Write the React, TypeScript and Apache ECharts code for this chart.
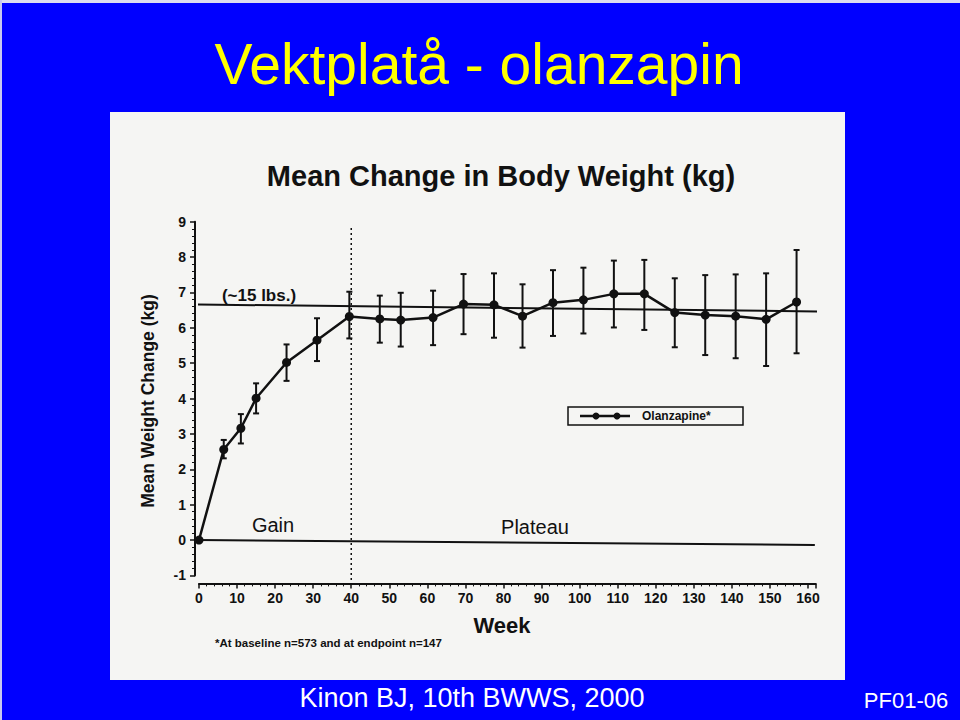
import React, { useEffect, useRef } from "react";
import * as echarts from "echarts";

// Weeks at which the mean was measured
const weeks = [0, 6.5, 11, 15, 23, 31, 39.5, 47.5, 53, 61.5, 69.5, 77.5, 85, 93, 101, 109, 117, 125, 133, 141, 149, 157];
// Mean weight change (kg)
const meanChange = [0, 2.56, 3.16, 4.01, 5.02, 5.65, 6.32, 6.25, 6.22, 6.29, 6.67, 6.65, 6.33, 6.71, 6.79, 6.96, 6.96, 6.43, 6.36, 6.33, 6.24, 6.73];
// Error bar ends
const upperBar = [0, 2.83, 3.56, 4.43, 5.53, 6.27, 7.02, 6.91, 6.99, 7.05, 7.52, 7.54, 7.23, 7.63, 7.7, 7.9, 7.92, 7.4, 7.49, 7.51, 7.54, 8.2];
const lowerBar = [0, 2.31, 2.73, 3.58, 4.5, 5.06, 5.7, 5.58, 5.47, 5.51, 5.82, 5.72, 5.44, 5.77, 5.84, 6.01, 5.94, 5.45, 5.23, 5.14, 4.92, 5.28];
// Reference lines (scanned slightly tilted)
const lbsLine = [[-1, 6.66], [165.8, 6.46]];
const zeroLine = [[-1, 0], [161.8, -0.14]];
const phaseLine = [[40, 8.82], [40, -1.2]];

const FONT = "'Liberation Sans', Arial, Helvetica, sans-serif";
const INK = "#111111";

export default function App() {
  const ref = useRef<HTMLDivElement>(null);

  useEffect(() => {
    if (!ref.current) return;
    const chart = echarts.init(ref.current, undefined, { renderer: "svg" });

    const meanData = weeks.map((w, i) => [w, meanChange[i]]);
    const barData = weeks.map((w, i) => [w, lowerBar[i], upperBar[i]]);

    const option: any = {
      animation: false,
      backgroundColor: "#0000ff",
      textStyle: { fontFamily: FONT },
      graphic: [
        { type: "rect", z: -1, shape: { x: 0, y: 0, width: 960, height: 3 }, style: { fill: "#dcdcf0" } },
        { type: "rect", z: -1, shape: { x: 0, y: 0, width: 2, height: 720 }, style: { fill: "#c8c8f0" } },
        { type: "rect", z: -1, shape: { x: 110, y: 112, width: 735, height: 568 }, style: { fill: "#f5f5f3" } },
        {
          type: "text", x: 479, y: 64,
          style: { text: "Vektplatå - olanzapin", fill: "#ffff00", fontFamily: FONT, fontSize: 57, textAlign: "center", textVerticalAlign: "middle" },
        },
        {
          type: "text", x: 472, y: 698,
          style: { text: "Kinon BJ, 10th BWWS, 2000", fill: "#ffffff", fontFamily: FONT, fontSize: 27, textAlign: "center", textVerticalAlign: "middle" },
        },
        {
          type: "text", x: 906, y: 700,
          style: { text: "PF01-06", fill: "#ffffff", fontFamily: FONT, fontSize: 22, textAlign: "center", textVerticalAlign: "middle" },
        },
        {
          type: "text", x: 501, y: 176,
          style: { text: "Mean Change in Body Weight (kg)", fill: INK, fontFamily: FONT, fontSize: 29, fontWeight: "bold", textAlign: "center", textVerticalAlign: "middle" },
        },
        {
          type: "text", x: 148, y: 401, rotation: Math.PI / 2,
          style: { text: "Mean Weight Change (kg)", fill: INK, fontFamily: FONT, fontSize: 17.5, fontWeight: "bold", textAlign: "center", textVerticalAlign: "middle" },
        },
        {
          type: "text", x: 502, y: 625,
          style: { text: "Week", fill: INK, fontFamily: FONT, fontSize: 22, fontWeight: "bold", textAlign: "center", textVerticalAlign: "middle" },
        },
        {
          type: "text", x: 215, y: 643,
          style: { text: "*At baseline n=573 and at endpoint n=147", fill: INK, fontFamily: FONT, fontSize: 11.5, fontWeight: "bold", textAlign: "left", textVerticalAlign: "middle" },
        },
        {
          type: "text", x: 259, y: 295,
          style: { text: "(~15 lbs.)", fill: INK, fontFamily: FONT, fontSize: 17, fontWeight: "bold", textAlign: "center", textVerticalAlign: "middle" },
        },
        {
          type: "text", x: 273, y: 525,
          style: { text: "Gain", fill: INK, fontFamily: FONT, fontSize: 20, textAlign: "center", textVerticalAlign: "middle" },
        },
        {
          type: "text", x: 535, y: 527,
          style: { text: "Plateau", fill: INK, fontFamily: FONT, fontSize: 20, textAlign: "center", textVerticalAlign: "middle" },
        },
        {
          type: "group",
          children: [
            { type: "rect", shape: { x: 568, y: 407, width: 175, height: 18 }, style: { fill: "transparent", stroke: INK, lineWidth: 1.5 } },
            { type: "line", shape: { x1: 580, y1: 416, x2: 630, y2: 416 }, style: { stroke: INK, lineWidth: 2.5 } },
            { type: "circle", shape: { cx: 596, cy: 416, r: 3.5 }, style: { fill: INK } },
            { type: "circle", shape: { cx: 617, cy: 416, r: 3.5 }, style: { fill: INK } },
            {
              type: "text", x: 642, y: 416,
              style: { text: "Olanzapine*", fill: INK, fontFamily: FONT, fontSize: 12, fontWeight: "bold", textAlign: "left", textVerticalAlign: "middle" },
            },
          ],
        },
      ],
      grid: { left: 199, top: 221.7, width: 616.6, height: 353.7, containLabel: false },
      xAxis: {
        type: "value",
        min: 0,
        max: 162,
        interval: 10,
        offset: 8,
        axisLine: { show: true, onZero: false, lineStyle: { color: INK, width: 2 } },
        axisTick: { show: true, length: 5, lineStyle: { color: INK, width: 1.5 } },
        minorTick: { show: true, splitNumber: 5, length: 3, lineStyle: { color: INK, width: 1 } },
        axisLabel: {
          margin: 8, fontSize: 14, fontWeight: "bold", color: INK, fontFamily: FONT,
          formatter: (v: number) => (v % 10 === 0 && v <= 160 ? String(v) : ""),
        },
        splitLine: { show: false },
        minorSplitLine: { show: false },
      },
      yAxis: {
        type: "value",
        min: -1,
        max: 9,
        interval: 1,
        offset: 4,
        axisLine: { show: true, onZero: false, lineStyle: { color: INK, width: 2 } },
        axisTick: { show: true, length: 5, lineStyle: { color: INK, width: 1.5 } },
        minorTick: { show: true, splitNumber: 5, length: 3, lineStyle: { color: INK, width: 1 } },
        axisLabel: { margin: 9, fontSize: 14, fontWeight: "bold", color: INK, fontFamily: FONT },
        splitLine: { show: false },
      },
      series: [
        {
          name: "lbs",
          type: "line",
          data: lbsLine,
          clip: false,
          symbol: "none",
          silent: true,
          lineStyle: { color: INK, width: 2 },
          z: 1,
        },
        {
          name: "zero",
          type: "line",
          data: zeroLine,
          clip: false,
          symbol: "none",
          silent: true,
          lineStyle: { color: INK, width: 2 },
          z: 1,
        },
        {
          name: "phase",
          type: "line",
          data: phaseLine,
          clip: false,
          symbol: "none",
          silent: true,
          lineStyle: { color: INK, width: 1.5, type: [2, 3] },
          z: 1,
        },
        {
          name: "errors",
          type: "custom",
          data: barData,
          clip: false,
          z: 2,
          renderItem: (_params: any, api: any) => {
            const x = api.value(0);
            const lo = api.coord([x, api.value(1)]);
            const hi = api.coord([x, api.value(2)]);
            const cap = 3;
            const style = { stroke: INK, lineWidth: 2 };
            return {
              type: "group",
              children: [
                { type: "line", shape: { x1: lo[0], y1: lo[1], x2: hi[0], y2: hi[1] }, style },
                { type: "line", shape: { x1: hi[0] - cap, y1: hi[1], x2: hi[0] + cap, y2: hi[1] }, style },
                { type: "line", shape: { x1: lo[0] - cap, y1: lo[1], x2: lo[0] + cap, y2: lo[1] }, style },
              ],
            };
          },
        },
        {
          name: "Olanzapine*",
          type: "line",
          data: meanData,
          clip: false,
          symbol: "circle",
          symbolSize: 9,
          itemStyle: { color: INK },
          lineStyle: { color: INK, width: 2.5 },
          z: 3,
        },
      ],
    };

    chart.setOption(option);
    return () => chart.dispose();
  }, []);

  return (
    <div
      ref={ref}
      style={{ position: "fixed", left: 0, top: 0, width: 960, height: 720 }}
    />
  );
}
